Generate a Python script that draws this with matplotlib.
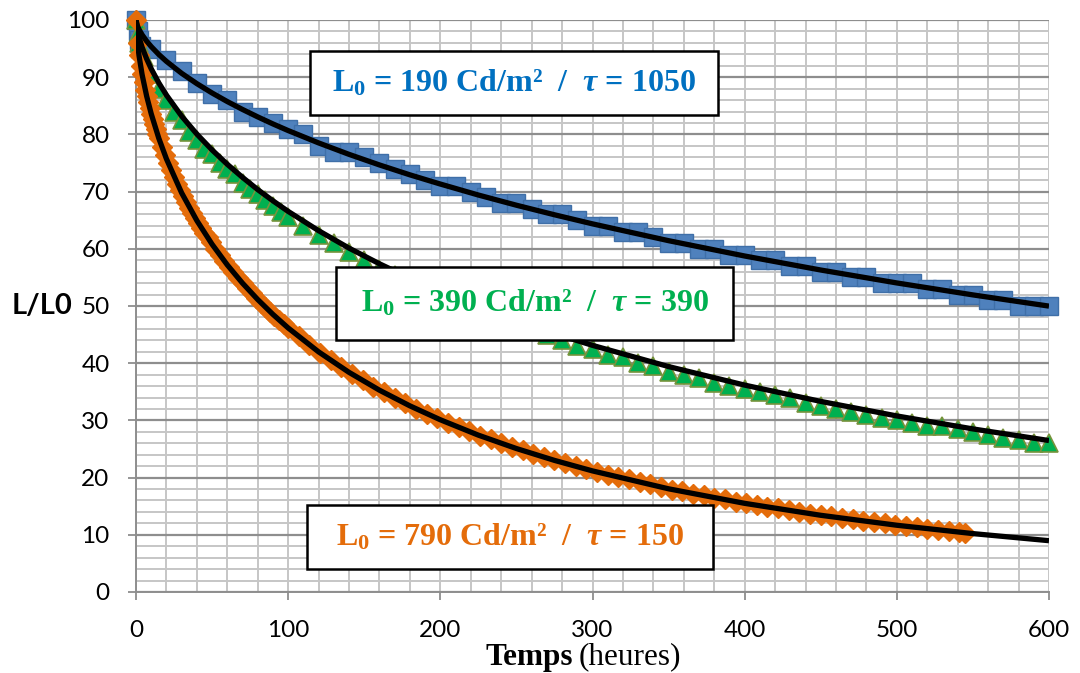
import matplotlib
matplotlib.use('Agg')
import matplotlib.pyplot as plt
from matplotlib.patches import Rectangle

# données (L/L0 en %, temps en heures)
t_bleu = [0, 1, 2, 3, 10, 20, 30, 40, 50, 60, 70, 80, 90, 100, 110, 120, 130, 140, 150,
          160, 170, 180, 190, 200, 210, 220, 230, 240, 250, 260, 270, 280, 290, 300,
          310, 320, 330, 340, 350, 360, 370, 380, 390, 400, 410, 420, 430, 440, 450,
          460, 470, 480, 490, 500, 510, 520, 530, 540, 550, 560, 570, 580, 590, 600]
y_bleu = [100, 98, 96.5, 95.5, 95, 93, 91, 89, 87, 86, 84, 83, 82, 81, 80, 78, 77, 77, 76,
          75, 74, 73, 72, 71, 71, 70, 69, 68, 68, 67, 66, 66, 65, 64,
          64, 63, 63, 62, 61, 61, 60, 60, 59, 59, 58, 58, 57, 57, 56,
          56, 55, 55, 54, 54, 54, 53, 53, 52, 52, 51, 51, 50, 50, 50]

t_vert = [0, 1, 2, 3, 5, 10, 15, 20, 25, 30, 35, 40, 45, 50, 55, 60, 65, 70, 75, 80, 85,
          90, 95, 100, 110, 120, 130, 140, 150, 160, 170, 180, 190, 200, 210, 220,
          230, 240, 250, 260, 270, 280, 290, 300, 310, 320, 330, 340, 350, 360, 370,
          380, 390, 400, 410, 420, 430, 440, 450, 460, 470, 480, 490, 500, 510, 520,
          530, 540, 550, 560, 570, 580, 590, 600]
y_vert = [100, 97.5, 96, 95, 93.5, 90.5, 88, 86, 84, 82.5, 80.5, 79, 77.5, 76.5, 75, 74,
          73, 71.5, 70.5, 69.5, 68.5, 67.5, 66.5, 65.5, 64, 62.5, 61, 59.5, 58, 56.5,
          55.5, 54, 53, 52, 51, 49.5, 48.5, 47.5, 47, 46, 45, 44, 43, 42.5, 41.5, 41,
          40, 39.5, 38.5, 38, 37.5, 36.5, 36, 35.5, 35, 34.5, 34, 33, 32.5, 32, 31.5,
          31, 30.5, 30, 29.5, 29, 29, 28.5, 28, 27.5, 27, 26.5, 26, 26]

t_orange = [0, 1, 2, 3, 4, 5, 6, 7, 8, 9, 10, 11, 12, 13, 14, 15, 17, 19, 21, 23, 25, 27,
            29, 31, 33, 35, 37, 39, 41, 43, 45, 47, 49, 52, 55, 58, 61, 64, 67, 70, 73,
            76, 79, 82, 85, 88, 91, 94, 97,
            100, 107, 114, 121, 128, 135, 142, 149, 156, 163, 170, 177, 184, 191, 198,
            205, 212, 219, 226, 233, 240, 247, 254, 261, 268, 275, 282, 289, 296, 303,
            310, 317, 324, 331, 338, 345, 352, 359, 366, 373, 380, 387, 394, 401, 408,
            415, 422, 429, 436, 443, 450, 457, 464, 471, 478, 485, 492, 499, 506, 513,
            520, 527, 534, 541, 545]
y_orange = [100, 95.9, 93.8, 92.0, 90.5, 89.1, 87.8, 86.7, 85.6, 84.6, 83.6, 82.7, 81.8,
            80.9, 80.1, 79.3, 77.8, 76.4, 75.0, 73.8, 72.6, 71.4, 70.3, 69.3, 68.2, 67.2,
            66.3, 65.4, 64.5, 63.6, 62.8, 62.0, 61.2, 60.0, 58.9, 57.9, 56.9, 55.9, 54.9,
            54.0, 53.1, 52.2, 51.4, 50.6, 49.8, 49.0, 48.3, 47.5, 46.9,
            46.2, 44.7, 43.2, 41.8, 40.6, 39.3, 38.1, 37.0, 35.9, 34.9, 33.9, 33.0, 32.0,
            31.2, 30.4, 29.6, 28.8, 28.1, 27.3, 26.7, 26.0, 25.4, 24.8, 24.2, 23.6, 23.0,
            22.5, 22.0, 21.5, 21.0, 20.5, 20.1, 19.7, 19.2, 18.8, 18.4, 17.9, 17.6, 17.2,
            16.9, 16.5, 16.2, 15.8, 15.5, 15.2, 14.9, 14.6, 14.3, 14.0, 13.7, 13.4, 13.2,
            12.9, 12.7, 12.4, 12.2, 12.0, 11.7, 11.5, 11.3, 11.1, 10.9, 10.7, 10.5, 10.4]

# courbes d'ajustement (traits noirs)
t_fit = [0, 1, 2, 4, 7, 10, 15, 20, 30, 40, 50, 60, 70, 80, 90, 100, 120, 140, 160, 180,
         200, 225, 250, 275, 300, 350, 400, 450, 500, 550, 600]
fit_bleu = [100, 98.95, 98.35, 97.42, 96.30, 95.35, 93.97, 92.77, 90.68, 88.87, 87.24,
            85.74, 84.36, 83.06, 81.83, 80.67, 78.51, 76.51, 74.66, 72.93, 71.32, 69.40,
            67.62, 65.95, 64.36, 61.42, 58.74, 56.29, 54.03, 51.94, 49.98]
fit_vert = [100, 98.07, 96.97, 95.25, 93.20, 91.47, 89.00, 86.87, 83.19, 80.05, 77.28,
            74.77, 72.49, 70.35, 68.39, 66.54, 63.17, 60.12, 57.38, 54.86, 52.54, 49.88,
            47.45, 45.19, 43.12, 39.41, 36.17, 33.32, 30.78, 28.51, 26.48]
fit_orange = [100, 95.93, 93.75, 90.47, 86.69, 83.60, 79.31, 75.72, 69.77, 64.93, 60.79,
              57.18, 53.99, 51.13, 48.53, 46.16, 41.98, 38.40, 35.28, 32.54, 30.11, 27.42,
              25.08, 23.01, 21.17, 18.04, 15.50, 13.41, 11.67, 10.21, 8.97]

etiquettes = [r'L$_0$ = 190 Cd/m²  /  $\tau$ = 1050',
              r'L$_0$ = 390 Cd/m²  /  $\tau$ = 390',
              r'L$_0$ = 790 Cd/m²  /  $\tau$ = 150']

plt.rcParams['mathtext.fontset'] = 'custom'
plt.rcParams['mathtext.rm'] = 'Liberation Serif:bold'
plt.rcParams['mathtext.it'] = 'Liberation Serif:italic:bold'
plt.rcParams['mathtext.bf'] = 'Liberation Serif:bold'

fig = plt.figure(figsize=(10.8, 6.73), dpi=100)
ax = fig.add_axes([136 / 1080, 1 - 592 / 673, 913 / 1080, 572 / 673])

ax.plot(t_bleu, y_bleu, 's', ms=13, mfc='#4F81BD', mec='#3F6FA8', mew=1,
        clip_on=False, zorder=3)
ax.plot(t_vert, y_vert, '^', ms=12.5, mfc='#00B050', mec='#77933C', mew=1.2,
        clip_on=False, zorder=3)
ax.plot(t_orange, y_orange, 'D', ms=10, mfc='#E46C0A', mec='#E46C0A', mew=1,
        clip_on=False, zorder=3)

for f in (fit_bleu, fit_vert, fit_orange):
    ax.plot(t_fit, f, color='black', lw=3.8, zorder=4, solid_capstyle='butt')

ax.set_xlim(0, 600)
ax.set_ylim(0, 100)
ax.set_xticks(range(0, 601, 100))
ax.set_xticks(range(0, 601, 20), minor=True)
ax.set_yticks(range(0, 101, 10))
ax.set_yticks(range(0, 101, 2), minor=True)
ax.set_axisbelow(True)
ax.grid(which='minor', color='#C6C6C6', lw=1.4)
ax.grid(axis='x', which='major', color='#C6C6C6', lw=1.4)
ax.grid(axis='y', which='major', color='#8E8E8E', lw=1.6)

for s in ('top', 'right'):
    ax.spines[s].set_visible(False)
for s in ('left', 'bottom'):
    ax.spines[s].set_color('#8E8E8E')
    ax.spines[s].set_linewidth(1.4)
ax.tick_params(which='minor', length=0)
ax.tick_params(which='major', direction='out', length=6, width=1.3, color='#8E8E8E',
               labelsize=17.5)
ax.tick_params(axis='x', pad=14)
ax.tick_params(axis='y', pad=13)
for lab in ax.get_xticklabels() + ax.get_yticklabels():
    lab.set_fontfamily('Lato')

ax.set_ylabel('L/L0', rotation=0, fontsize=21, fontweight='bold', family='Lato',
              ha='center', va='center')
ax.yaxis.set_label_coords(-0.103, 0.5)

fig.text(573 / 1080, 1 - 657 / 673, 'Temps', ha='right', va='center',
         family='Liberation Serif', fontweight='bold', fontsize=22.5)
fig.text(579 / 1080, 1 - 657 / 673, '(heures)', ha='left', va='center',
         family='Liberation Serif', fontsize=22.5)

# cadres des étiquettes
cadres = [(0.1906, 0.834, 0.4469, 0.1123),
          (0.219, 0.4406, 0.435, 0.1274),
          (0.1873, 0.0402, 0.4447, 0.1118)]
couleurs = ['#0070C0', '#00B050', '#E46C0A']
for (x0, y0, w, h), txt, c in zip(cadres, etiquettes, couleurs):
    ax.add_patch(Rectangle((x0, y0), w, h, transform=ax.transAxes, fc='white',
                           ec='black', lw=1.8, zorder=5))
    ax.text(x0 + w / 2, y0 + h / 2, txt, transform=ax.transAxes, ha='center',
            va='center', color=c, fontsize=23, fontweight='bold',
            family='Liberation Serif', zorder=6)

fig.savefig('out.png', dpi=100)
